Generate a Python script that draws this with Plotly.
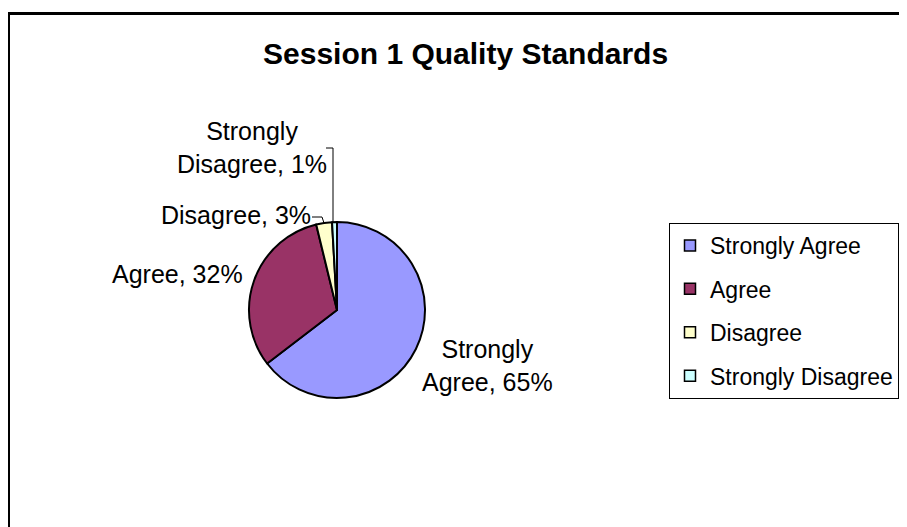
import plotly.graph_objects as go

# the page body adds an 8px margin, so the figure is drawn 8px in from
# the window edge; sizes/positions below are in window pixels
OFF = 8
W, H = 907 - OFF, 527 - OFF

labels = ["Strongly Agree", "Agree", "Disagree", "Strongly Disagree"]
values = [64.6, 31.6, 2.9, 0.9]
colors = ["#9999FF", "#993366", "#FFFFCC", "#CCFFFF"]

FONT = "Liberation Sans, Arial, sans-serif"

# pie centre / radius in pixels
cx, cy, r = 337, 310, 88


def px_x(x):
    return (x - OFF) / W


def px_y(y):
    return 1 - (y - OFF) / H


fig = go.Figure()
fig.add_trace(go.Pie(
    labels=labels,
    values=values,
    sort=False,
    direction="clockwise",
    rotation=0,
    textinfo="none",
    marker=dict(colors=colors, line=dict(color="black", width=2)),
    domain=dict(x=[px_x(cx - r), px_x(cx + r)], y=[px_y(cy + r), px_y(cy - r)]),
    showlegend=False,
    hovertemplate="%{label}: %{percent:.0%}<extra></extra>",
))

# legend entries (square swatches like the Excel legend)
for i, (lab, col) in enumerate(zip(labels, colors)):
    fig.add_trace(go.Scatter(
        x=[None], y=[None], mode="markers", name=lab,
        legendgroup=f"g{i}",
        marker=dict(symbol="square", size=11, color=col, line=dict(color="black", width=1.5)),
    ))

# slice labels
total = sum(values)
label_pos = [(487, 365), (177, 274), (236, 215), (252, 147)]
for lab, v, (lx, ly) in zip(labels, values, label_pos):
    pct = round(v / total * 100)
    txt = f"{lab}, {pct}%"
    if lab.startswith("Strongly "):
        txt = txt.replace(" ", "<br>", 1)
    fig.add_annotation(
        x=px_x(lx), y=px_y(ly), xref="paper", yref="paper",
        text=txt, showarrow=False, align="center",
        xanchor="center", yanchor="middle",
        font=dict(family=FONT, size=25, color="black"),
    )

# leader lines
fig.add_shape(type="path", xref="paper", yref="paper",
              path=f"M{px_x(312)},{px_y(217)} L{px_x(322)},{px_y(217)} L{px_x(324)},{px_y(223)}",
              line=dict(color="black", width=1))
fig.add_shape(type="path", xref="paper", yref="paper",
              path=f"M{px_x(326)},{px_y(148)} L{px_x(333)},{px_y(148)} L{px_x(333)},{px_y(223)}",
              line=dict(color="black", width=1))

# outer chart border
fig.add_shape(type="rect", xref="paper", yref="paper",
              x0=px_x(8.5), y0=px_y(540), x1=px_x(920), y1=px_y(13.5),
              line=dict(color="black", width=3))

fig.add_annotation(
    x=px_x(465), y=px_y(53), xref="paper", yref="paper",
    text="<b>Session 1 Quality Standards</b>", showarrow=False,
    xanchor="center", yanchor="middle",
    font=dict(family=FONT, size=30, color="black"),
)

fig.update_layout(
    width=W, height=H,
    margin=dict(l=0, r=0, t=0, b=0, autoexpand=False),
    paper_bgcolor="white",
    plot_bgcolor="white",
    xaxis=dict(visible=False),
    yaxis=dict(visible=False),
    legend=dict(
        x=px_x(669), y=px_y(223), xanchor="left", yanchor="top",
        bordercolor="black", borderwidth=1, bgcolor="white",
        font=dict(family=FONT, size=23, color="black"),
        tracegroupgap=10.5,
    ),
)

fig.write_html("out.html")
